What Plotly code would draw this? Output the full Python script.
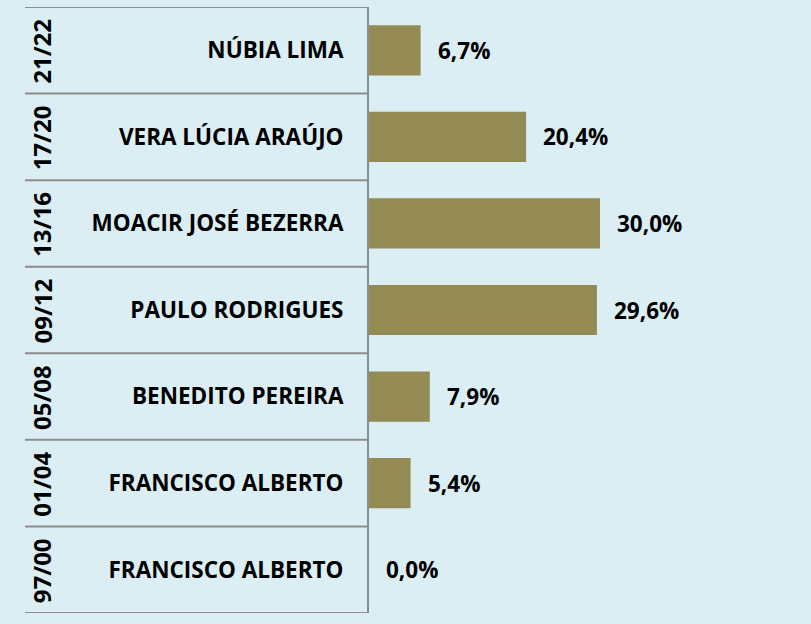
import plotly.graph_objects as go

periods = ["97/00", "01/04", "05/08", "09/12", "13/16", "17/20", "21/22"]
names = ["FRANCISCO ALBERTO", "FRANCISCO ALBERTO", "BENEDITO PEREIRA",
         "PAULO RODRIGUES", "MOACIR JOSÉ BEZERRA", "VERA LÚCIA ARAÚJO", "NÚBIA LIMA"]
values = [0.0, 5.4, 7.9, 29.6, 30.0, 20.4, 6.7]

BG = "#DBEEF4"
BAR = "#948A54"
LINE = "#8C8C8C"
FONT = "Open Sans"

W, H = 811, 624
ML, MR, MT, MB = 369, 0, 7, 11
PW = W - ML - MR

def px_to_paper(p):
    return (p - ML) / PW

pos = list(range(len(values)))
labels = [f"{v:.1f}".replace(".", ",") + "%" for v in values]

fig = go.Figure(go.Bar(
    x=values, y=pos, orientation="h",
    marker=dict(color=BAR, line=dict(width=0)),
    width=0.58, hoverinfo="skip",
))

annotations = []
for i, (v, t) in enumerate(zip(values, labels)):
    annotations.append(dict(
        x=v, y=i, xref="x", yref="y", text=f"<b>{t}</b>", showarrow=False,
        xanchor="left", yanchor="middle", xshift=15,
        font=dict(family=FONT, size=22.5, color="#000000"),
    ))
for i, p in enumerate(periods):
    annotations.append(dict(
        x=px_to_paper(41.5), y=i, xref="paper", yref="y", text=f"<b>{p}</b>",
        showarrow=False, textangle=-90, xanchor="center", yanchor="middle",
        yshift=-1, font=dict(family=FONT, size=24, color="#000000"),
    ))

shapes = []
for k in range(len(values) + 1):
    shapes.append(dict(
        type="line", xref="paper", yref="y",
        x0=px_to_paper(25), x1=0, y0=k - 0.5, y1=k - 0.5,
        line=dict(color=LINE, width=2),
    ))

fig.update_layout(
    width=W, height=H,
    margin=dict(l=ML, r=MR, t=MT, b=MB, pad=0),
    paper_bgcolor=BG, plot_bgcolor=BG,
    showlegend=False,
    annotations=annotations,
    shapes=shapes,
    xaxis=dict(range=[0, PW / 7.7], visible=False, fixedrange=True),
    yaxis=dict(
        range=[-0.5, len(values) - 0.5],
        tickmode="array", tickvals=pos,
        ticktext=[f"<b>{n}</b>" for n in names],
        ticks="", showgrid=False, zeroline=False,
        showline=True, linecolor=LINE, linewidth=2,
        ticklabelstandoff=19,
        tickfont=dict(family=FONT, size=22.5, color="#000000"),
        fixedrange=True,
    ),
)

fig.write_html("out.html", config={"displayModeBar": False},
               post_script="document.body.style.margin='0';")
